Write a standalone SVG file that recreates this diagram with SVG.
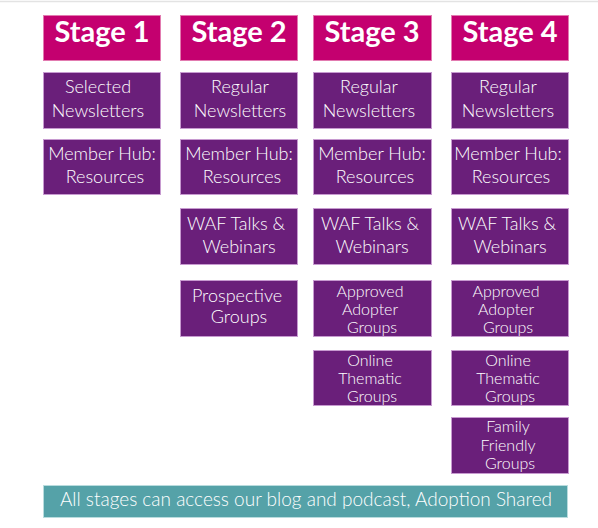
<svg xmlns="http://www.w3.org/2000/svg" width="598" height="528" viewBox="0 0 598 528">
<style>
.hd{fill:#C4006F;stroke:#E27BB0;stroke-width:1}
.bx{fill:#6A1F7A;stroke:#C79AD0;stroke-width:1}
.bar{fill:#55A2A8;stroke:#B9DCDE;stroke-width:1}
text{font-family:Lato,"Noto Sans","Liberation Sans",sans-serif;fill:#fff;text-anchor:middle;font-weight:300}
.ht{font-size:29px;font-weight:bold}
.t{font-size:18px}
.s{font-size:16px}
.bt{font-size:19px}
</style>
<rect width="598" height="528" fill="#fff"/>
<line x1="0" y1="1.5" x2="598" y2="1.5" stroke="#e3e3e3" stroke-width="1.5"/>
<g id="stage1">
<rect class="hd" x="43.5" y="15.5" width="117" height="45"/>
<text class="ht" x="102" y="42">Stage 1</text>
</g>
<g id="stage2">
<rect class="hd" x="180.5" y="15.5" width="117" height="45"/>
<text class="ht" x="239" y="42">Stage 2</text>
</g>
<g id="stage3">
<rect class="hd" x="313.5" y="15.5" width="118" height="45"/>
<text class="ht" x="372" y="42">Stage 3</text>
</g>
<g id="stage4">
<rect class="hd" x="451.5" y="15.5" width="117" height="45"/>
<text class="ht" x="510" y="42">Stage 4</text>
</g>
<g id="s1-newsletters">
<rect class="bx" x="43.5" y="72.5" width="117" height="56"/>
<text class="t" x="98" y="93">Selected</text>
<text class="t" x="98" y="117">Newsletters</text>
</g>
<g id="s2-newsletters">
<rect class="bx" x="180.5" y="72.5" width="117" height="56"/>
<text class="t" x="240" y="93">Regular</text>
<text class="t" x="240" y="117">Newsletters</text>
</g>
<g id="s3-newsletters">
<rect class="bx" x="313.5" y="72.5" width="118" height="56"/>
<text class="t" x="369" y="93">Regular</text>
<text class="t" x="369" y="117">Newsletters</text>
</g>
<g id="s4-newsletters">
<rect class="bx" x="451.5" y="72.5" width="117" height="56"/>
<text class="t" x="508" y="93">Regular</text>
<text class="t" x="508" y="117">Newsletters</text>
</g>
<g id="s1-hub">
<rect class="bx" x="43.5" y="139.5" width="117" height="55"/>
<text class="t" x="102" y="160">Member Hub:</text>
<text class="t" x="105" y="183">Resources</text>
</g>
<g id="s2-hub">
<rect class="bx" x="180.5" y="139.5" width="117" height="55"/>
<text class="t" x="239" y="160">Member Hub:</text>
<text class="t" x="242" y="183">Resources</text>
</g>
<g id="s3-hub">
<rect class="bx" x="313.5" y="139.5" width="118" height="55"/>
<text class="t" x="372" y="160">Member Hub:</text>
<text class="t" x="375" y="183">Resources</text>
</g>
<g id="s4-hub">
<rect class="bx" x="451.5" y="139.5" width="117" height="55"/>
<text class="t" x="508" y="160">Member Hub:</text>
<text class="t" x="511" y="183">Resources</text>
</g>
<g id="s2-waf">
<rect class="bx" x="180.5" y="208.5" width="117" height="56"/>
<text class="t" x="236" y="230">WAF Talks &amp;</text>
<text class="t" x="239" y="253">Webinars</text>
</g>
<g id="s3-waf">
<rect class="bx" x="313.5" y="208.5" width="118" height="56"/>
<text class="t" x="370" y="230">WAF Talks &amp;</text>
<text class="t" x="372" y="253">Webinars</text>
</g>
<g id="s4-waf">
<rect class="bx" x="451.5" y="208.5" width="117" height="56"/>
<text class="t" x="507" y="230">WAF Talks &amp;</text>
<text class="t" x="510" y="253">Webinars</text>
</g>
<g id="s2-prospective">
<rect class="bx" x="180.5" y="280.5" width="117" height="56"/>
<text class="t" x="237" y="302">Prospective</text>
<text class="t" x="239" y="323">Groups</text>
</g>
<g id="s3-approved">
<rect class="bx" x="313.5" y="280.5" width="118" height="56"/>
<text class="s" x="370" y="297">Approved</text>
<text class="s" x="370" y="315">Adopter</text>
<text class="s" x="372" y="333">Groups</text>
</g>
<g id="s4-approved">
<rect class="bx" x="451.5" y="280.5" width="117" height="56"/>
<text class="s" x="506" y="297">Approved</text>
<text class="s" x="506" y="315">Adopter</text>
<text class="s" x="508" y="333">Groups</text>
</g>
<g id="s3-online">
<rect class="bx" x="313.5" y="350.5" width="118" height="55"/>
<text class="s" x="370" y="366">Online</text>
<text class="s" x="370" y="384">Thematic</text>
<text class="s" x="372" y="402">Groups</text>
</g>
<g id="s4-online">
<rect class="bx" x="451.5" y="350.5" width="117" height="55"/>
<text class="s" x="508" y="366">Online</text>
<text class="s" x="508" y="384">Thematic</text>
<text class="s" x="510" y="402">Groups</text>
</g>
<g id="s4-family">
<rect class="bx" x="451.5" y="417.5" width="117" height="56"/>
<text class="s" x="508" y="432">Family</text>
<text class="s" x="508" y="451">Friendly</text>
<text class="s" x="510" y="469">Groups</text>
</g>
<g id="all-stages">
<rect class="bar" x="43.5" y="485.5" width="524" height="32"/>
<text class="bt" x="306" y="506">All stages can access our blog and podcast, Adoption Shared</text>
</g>
<g id="connectors"/>
</svg>
